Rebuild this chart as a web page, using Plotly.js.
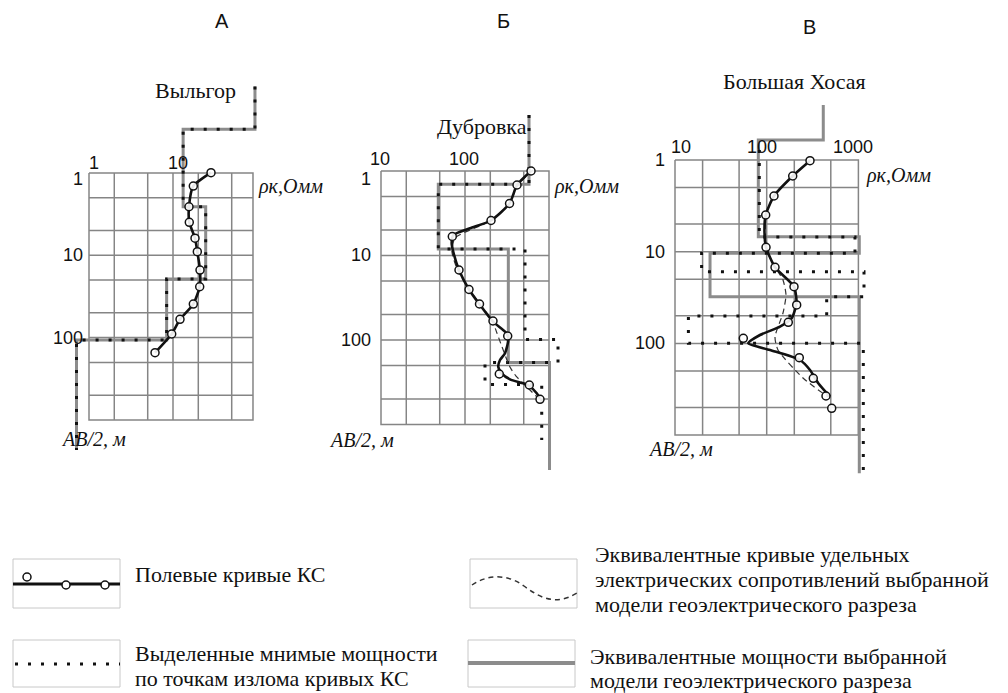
<!DOCTYPE html>
<html><head><meta charset="utf-8">
<script src="https://cdn.plot.ly/plotly-3.0.1.min.js"></script>
<style>html,body{margin:0;padding:0;background:#fff}</style>
</head><body><div id="chart" style="width:1008px;height:693px"></div>
<script>
// ---------- DATA (AB/2 in m, rho_k in Ohm*m) ----------
// Panel А — Выльгор
const pointsA_rho = [28.35, 17.45, 15.5, 15.63, 18.28, 19.47, 20.96, 20.79, 17.45, 12.12, 9.65, 6.11];
const pointsA_ab  = [0.99, 1.44, 2.57, 3.97, 6.2, 9.04, 15.1, 24.1, 39.1, 59.9, 90.4, 152.6];
const modelA_rho    = [94.6, 94.6, 13.2, 13.2, 24.5, 24.5, 8.4, 8.4, 0.71, 0.71];
const modelA_ab     = [0.089, 0.294, 0.294, 2.57, 2.57, 19.4, 19.4, 107, 107, 2321];
const apparentA_rho = [94.6, 94.6, 13.2, 13.2, 24.5, 24.5, 8.4, 8.4, 0.71, 0.71];
const apparentA_ab  = [0.089, 0.294, 0.294, 2.57, 2.57, 19.4, 19.4, 107, 107, 2321];

// Panel Б — Дубровка
const pointsB_rho = [611, 416, 339, 204, 70.6, 84.8, 111.6, 148.8, 215.4, 322.3, 256, 582.9, 781.4];
const pointsB_ab  = [1, 1.465, 2.425, 3.853, 5.96, 14.85, 25.26, 37.5, 59.6, 89.7, 252.6, 340.8, 503.2];
const curveB_rho = [611, 416, 339, 204, 114.7, 72.6, 69.4, 72.6, 84.8, 111.6, 150.8, 215.4, 313.6, 327.7, 299.5, 261, 249.1, 273.4, 343.3, 494.3, 582.9, 714, 781.4];
const curveB_ab  = [1, 1.465, 2.425, 3.853, 4.765, 5.72, 7.11, 9.09, 14.85, 25.26, 38.5, 60.7, 83.3, 100, 143.7, 172.5, 208.7, 247.8, 291.8, 325.4, 350.3, 427.4, 499.1];
const equivB_rho = [645, 428, 334, 199, 76, 70, 80, 109, 151, 209, 240, 276, 343, 405, 547, 720];
const equivB_ab  = [0.97, 1.46, 2.46, 3.9, 6.2, 9.1, 14.1, 24.2, 37.5, 58, 82.6, 121, 209, 267, 360, 473];
const modelB_rho = [578, 578, 48.1, 48.1, 328, 328, 1014, 1014];
const modelB_ab  = [0.217, 1.43, 1.43, 8.38, 8.38, 185, 185, 3453];
const apparentB_rho = [578, 578, 48.1, 48.1, 518, 518, 1280, 1280, 173, 173, 819, 819];
const apparentB_ab  = [0.217, 1.43, 1.43, 8.38, 8.38, 98.6, 98.6, 185, 185, 336, 336, 1525];

// Panel В — Большая Хосая
const pointsC_rho = [296.6, 192.1, 120.1, 97.5, 98.3, 123.2, 198.5, 212.3, 172.0, 55.6, 226.7, 322.2, 443.2, 511.5];
const pointsC_ab  = [1.018, 1.494, 2.47, 3.98, 8.95, 14.8, 24.08, 38.1, 58.9, 88.0, 143.2, 240.2, 374.7, 510.3];
const curveC_rho = [296.6, 192.1, 120.1, 97.5, 94.6, 98.3, 123.2, 198.5, 211.3, 187.3, 139.6, 84.5, 63.0, 108.6, 230.7, 296.6, 365.3, 490.1];
const curveC_ab  = [1.018, 1.494, 2.47, 3.98, 6.10, 8.95, 14.8, 24.08, 36.3, 53.2, 65.7, 81.0, 99.7, 118, 151.7, 195, 272.3, 381.3];
const equivC_rho = [296.6, 193.6, 120.1, 98.3, 98.3, 114.2, 150.6, 162.4, 150.6, 123.2, 132.8, 248.8, 466.2];
const equivC_ab  = [1.0, 1.494, 2.47, 3.98, 8.9, 12.95, 20.36, 29.7, 46.6, 85.2, 118, 238.4, 384.1];
const modelC_rho = [414, 414, 81, 81, 1023, 1023, 24.1, 24.1, 1023, 1023];
const modelC_ab  = [0.251, 0.605, 0.605, 6.86, 6.86, 10.4, 10.4, 31, 31, 2610];
const apparentC_rho = [83, 83, 918, 918, 19.5, 19.5, 1151, 1151, 451, 451, 14, 14, 1131, 1131];
const apparentC_ab  = [0.78, 6.92, 6.92, 10.4, 10.4, 16.5, 16.5, 31, 31, 50.3, 50.3, 99.8, 99.8, 2610];

// Grid / ticks
const gridA_rho = [2, 5, 10, 20, 50];
const gridBC_rho = [20, 50, 100, 200, 500];
const grid_ab = [2, 5, 10, 20, 50, 100, 200, 500];
const ticksA_rho = [1, 10];
const ticksBC_rho = [10, 100];
const ticksC_rho = [10, 100, 1000];
const ticks_ab = [1, 10, 100];
const panelLetters = ['А', 'Б', 'В'];
const panelTitles = ['Выльгор', 'Дубровка', 'Большая Хосая'];
const rhoLabel = 'ρк,Омм';
const abLabel = 'AB/2, м';
const legendTexts = [
  ['Полевые кривые КС'],
  ['Выделенные мнимые мощности', 'по точкам излома кривых КС'],
  ['Эквивалентные кривые удельных', 'электрических сопротивлений выбранной', 'модели геоэлектрического разреза'],
  ['Эквивалентные мощности выбранной', 'модели геоэлектрического разреза']
];

// ---------- BUILD ----------
const W = 1008, H = 693;
const X = v => v / W, Y = v => 1 - v / H;
const SANS = 'Liberation Sans, Arial, sans-serif';
const SERIF = 'Liberation Serif, Times New Roman, serif';
const GRAY = '#858585';

const panels = [
  {xa:'x', ya:'y', box:[1, 89.6, 1, 1000], gx:gridA_rho, gy:grid_ab,
   pts:[pointsA_rho, pointsA_ab], curve:[pointsA_rho, pointsA_ab], equiv:null,
   model:[modelA_rho, modelA_ab], app:[apparentA_rho, apparentA_ab]},
  {xa:'x2', ya:'y2', box:[10, 1000, 1, 1000], gx:gridBC_rho, gy:grid_ab,
   pts:[pointsB_rho, pointsB_ab], curve:[curveB_rho, curveB_ab], equiv:[equivB_rho, equivB_ab],
   model:[modelB_rho, modelB_ab], app:[apparentB_rho, apparentB_ab]},
  {xa:'x3', ya:'y3', box:[10, 1000, 1, 1000], gx:gridBC_rho, gy:grid_ab,
   pts:[pointsC_rho, pointsC_ab], curve:[curveC_rho, curveC_ab], equiv:[equivC_rho, equivC_ab],
   model:[modelC_rho, modelC_ab], app:[apparentC_rho, apparentC_ab]}
];

const traces = [];
panels.forEach(p => {
  const [x0, x1, y0, y1] = p.box;
  const gxs = [], gys = [];
  p.gx.forEach(g => { gxs.push(g, g, null); gys.push(y0, y1, null); });
  p.gy.forEach(g => { gxs.push(x0, x1, null); gys.push(g, g, null); });
  gxs.push(x0, x1, x1, x0, x0); gys.push(y0, y0, y1, y1, y0);
  traces.push({x:gxs, y:gys, xaxis:p.xa, yaxis:p.ya, mode:'lines', connectgaps:false,
    line:{color:GRAY, width:1.5}, hoverinfo:'skip'});
  traces.push({x:p.model[0], y:p.model[1], xaxis:p.xa, yaxis:p.ya, mode:'lines',
    line:{color:'#8c8c8c', width:3}, hoverinfo:'skip'});
  traces.push({x:p.app[0], y:p.app[1], xaxis:p.xa, yaxis:p.ya, mode:'lines',
    line:{color:'#111', width:3, dash:'3px,10px'}, hoverinfo:'skip'});
  if (p.equiv) traces.push({x:p.equiv[0], y:p.equiv[1], xaxis:p.xa, yaxis:p.ya, mode:'lines',
    line:{color:'#333', width:1.2, dash:'6px,4px', shape:'spline', smoothing:0.6}, hoverinfo:'skip'});
  traces.push({x:p.curve[0], y:p.curve[1], xaxis:p.xa, yaxis:p.ya, mode:'lines',
    line:{color:'#111', width:2.6, shape:'spline', smoothing:0.6}, hoverinfo:'skip'});
  traces.push({x:p.pts[0], y:p.pts[1], xaxis:p.xa, yaxis:p.ya, mode:'markers',
    marker:{symbol:'circle', size:8, color:'rgba(255,255,255,0.9)', line:{color:'#111', width:1.5}}, hoverinfo:'skip'});
});

const ax = (dom, rng) => ({domain:dom, type:'log', range:rng, showgrid:false, zeroline:false,
  showline:false, showticklabels:false, ticks:'', fixedrange:true});

const annotations = [];
const A = (text, x, y, o) => annotations.push(Object.assign({text, x, y, xref:'paper', yref:'paper',
  showarrow:false, xanchor:'center', yanchor:'middle', font:{family:SANS, size:18, color:'#111'}}, o||{}));
const tick = (text, xa, ya, xv, yv, o) => annotations.push(Object.assign({text, xref:xa, yref:ya,
  x:Math.log10(xv), y:Math.log10(yv), showarrow:false, font:{family:SANS, size:18, color:'#111'}}, o));

// tick labels
ticksA_rho.forEach(v => tick(String(v), 'x', 'y', v, 1, {xanchor:'center', yanchor:'middle', xshift:5, yshift:10}));
ticks_ab.forEach(v => tick(String(v), 'x', 'y', 1, v, {xanchor:'right', yanchor:'middle', xshift:-4, yshift: v===1?-6:0}));
ticksBC_rho.forEach(v => tick(String(v), 'x2', 'y2', v, 1, {xanchor:'center', yanchor:'middle', xshift:-1, yshift:12}));
ticks_ab.forEach(v => tick(String(v), 'x2', 'y2', 10, v, {xanchor:'right', yanchor:'middle', xshift:-8, yshift: v===1?-8:0}));
ticksC_rho.forEach(v => tick(String(v), 'x3', 'y3', v, 1, {xanchor:'center', yanchor:'middle', xshift: v===10?6:-5, yshift:13}));
ticks_ab.forEach(v => tick(String(v), 'x3', 'y3', 10, v, {xanchor:'right', yanchor:'middle', xshift:-8, yshift:0}));

// panel letters / titles / axis labels
const letterPos = [[222,21],[503,21],[809,27]];
panelLetters.forEach((t,i) => A(t, X(letterPos[i][0]), Y(letterPos[i][1]), {font:{family:SANS, size:20, color:'#111'}}));
const titlePos = [[195,90],[482,127],[794,82]];
panelTitles.forEach((t,i) => A(t, X(titlePos[i][0]), Y(titlePos[i][1]), {font:{family:SERIF, size:22, color:'#111'}}));
const rhoPos = [[256,186],[552,186],[864,175]];
rhoPos.forEach(p => A(rhoLabel, X(p[0]), Y(p[1]), {xanchor:'left', font:{family:SERIF, size:20, color:'#111', style:'italic'}}));
const abPos = [[59,439],[327,440],[646,449]];
abPos.forEach(p => A(abLabel, X(p[0]), Y(p[1]), {xanchor:'left', font:{family:SERIF, size:20, color:'#111', style:'italic'}}));

// legend texts
const legPos = [[[134,574]], [[134,653],[134,678]], [[594,554],[594,579],[594,604]], [[589,656],[589,680]]];
legendTexts.forEach((lines,i) => lines.forEach((t,j) => A(t, X(legPos[i][j][0]), Y(legPos[i][j][1]),
  {xanchor:'left', font:{family:SERIF, size:22, color:'#111'}, borderpad:0})));

// legend boxes and samples
const shapes = [];
const rect = (x0,y0,x1,y1) => shapes.push({type:'rect', xref:'paper', yref:'paper', x0:X(x0), x1:X(x1), y0:Y(y1), y1:Y(y0), line:{color:'#c8c8c8', width:1}});
rect(13,559,120,608); rect(13,640,120,687); rect(470,559,577,608); rect(468,640,575,687);
const hline = (x0,x1,y,col,w,dash) => shapes.push({type:'line', xref:'paper', yref:'paper', x0:X(x0), x1:X(x1), y0:Y(y), y1:Y(y), line:{color:col, width:w, dash:dash||'solid'}});
hline(13,120,584,'#111',3);
hline(15,120,664,'#111',3,'3px,10px');
hline(468,575,663,'#8c8c8c',4);
[[27,577],[66,585],[105,585]].forEach(c => shapes.push({type:'circle', xref:'paper', yref:'paper',
  x0:X(c[0]-4), x1:X(c[0]+4), y0:Y(c[1]+4), y1:Y(c[1]-4), fillcolor:'#fff', line:{color:'#111', width:1.5}}));
const P = (x,y) => X(x) + ',' + Y(y);
shapes.push({type:'path', xref:'paper', yref:'paper',
  path:'M' + P(472,585) + ' C' + P(488,574) + ' ' + P(508,574) + ' ' + P(524,586) + ' C' + P(540,598) + ' ' + P(556,606) + ' ' + P(577,593),
  line:{color:'#333', width:1.5, dash:'5px,4px'}});

const layout = {
  width:W, height:H, margin:{l:0, r:0, t:0, b:0}, paper_bgcolor:'#fff', plot_bgcolor:'rgba(0,0,0,0)',
  showlegend:false, hovermode:false,
  xaxis:  Object.assign(ax([40/W, 300/W], [-0.5833, 2.5119]), {anchor:'y'}),
  yaxis:  Object.assign(ax([1-480/H, 1-60/H], [3.7302, -1.3730]), {anchor:'x'}),
  xaxis2: Object.assign(ax([330/W, 600/W], [0.3929, 3.6071]), {anchor:'y2'}),
  yaxis2: Object.assign(ax([1-480/H, 1-60/H], [3.6568, -1.3136]), {anchor:'x2'}),
  xaxis3: Object.assign(ax([620/W, 900/W], [0.4002, 3.4537]), {anchor:'y3'}),
  yaxis3: Object.assign(ax([1-490/H, 1-60/H], [3.5987, -1.0905]), {anchor:'x3'}),
  annotations, shapes
};
Plotly.newPlot('chart', traces, layout, {staticPlot:true, displayModeBar:false});
</script></body></html>
